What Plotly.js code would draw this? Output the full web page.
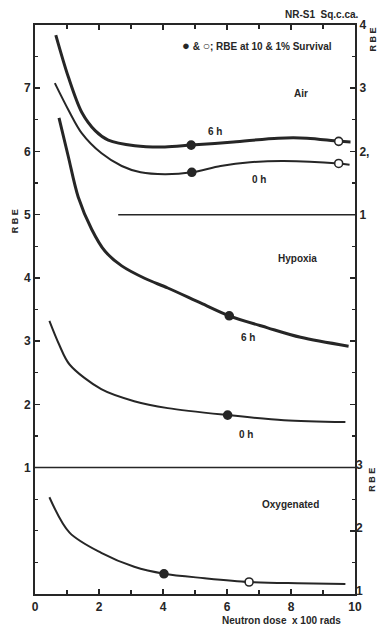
<!DOCTYPE html>
<html>
<head>
<meta charset="utf-8">
<script src="https://cdn.plot.ly/plotly-3.0.1.min.js"></script>
<style>
html,body{margin:0;padding:0;background:#fff;}
#chart{width:381px;height:626px;}
</style>
</head>
<body>
<div id="chart"></div>
<script>
// Air (right axis, RBE 1-4)
const air6hX = [0.65, 1.04, 1.46, 1.88, 2.29, 3.12, 4.06, 4.88, 6.20, 7.60, 8.50, 9.49, 9.86];
const air6hY = [3.84, 3.18, 2.62, 2.33, 2.18, 2.09, 2.07, 2.10, 2.15, 2.21, 2.21, 2.16, 2.15];
const air0hX = [0.62, 1.04, 1.46, 2.08, 2.71, 3.30, 4.06, 4.90, 5.80, 6.72, 7.77, 9.49, 9.83];
const air0hY = [3.08, 2.66, 2.29, 1.97, 1.77, 1.67, 1.64, 1.67, 1.77, 1.83, 1.85, 1.81, 1.79];
const air6hPtsX = [4.88], air6hPtsY = [2.10], air6hOpenX = [9.49], air6hOpenY = [2.16];
const air0hPtsX = [4.90], air0hPtsY = [1.67], air0hOpenX = [9.49], air0hOpenY = [1.81];
// Hypoxia (left axis, RBE 1-7)
const hyp6hX = [0.75, 1.04, 1.35, 1.77, 2.19, 2.71, 3.44, 4.15, 5.19, 6.07, 7.27, 8.30, 9.80];
const hyp6hY = [6.53, 5.92, 5.28, 4.77, 4.42, 4.19, 3.99, 3.84, 3.60, 3.40, 3.21, 3.06, 2.92];
const hyp0hX = [0.45, 0.75, 1.08, 2.07, 3.10, 4.15, 6.02, 7.78, 9.70];
const hyp0hY = [3.32, 2.95, 2.63, 2.24, 2.05, 1.94, 1.83, 1.75, 1.72];
const hyp6hPtsX = [6.07], hyp6hPtsY = [3.40];
const hyp0hPtsX = [6.02], hyp0hPtsY = [1.83];
// Oxygenated (lower right axis, RBE 1-3)
const oxyX = [0.45, 1.08, 2.07, 3.10, 4.03, 5.30, 6.69, 8.20, 9.70];
const oxyY = [2.53, 1.97, 1.65, 1.43, 1.32, 1.25, 1.19, 1.17, 1.16];
const oxyPtsX = [4.03], oxyPtsY = [1.32], oxyOpenX = [6.69], oxyOpenY = [1.19];
// RBE = 1 reference lines
const airRefX = [2.6, 10], airRefY = [1, 1];
const hypRefX = [0, 10], hypRefY = [1, 1];
// ticks
const xTicks = [0, 2, 4, 6, 8, 10];
const leftTicks = [1, 2, 3, 4, 5, 6, 7];
const airTicks = [4, 3, 2, 1, 0, -1, -2];
const airTickText = ["4", "3", "2,", "1", "", "", ""];
const oxyTicks = [1, 2, 3];

const ink = '#262626';
const F = 'Liberation Sans, Arial, sans-serif';

function line(x, y, w, ax) {
  return {x: x, y: y, yaxis: ax, mode: 'lines', line: {color: ink, width: w, shape: 'spline', smoothing: 0.9}, hoverinfo: 'skip', showlegend: false};
}
function pts(x, y, ax, open) {
  return {x: x, y: y, yaxis: ax, mode: 'markers', marker: {size: 8, color: open ? '#ffffff' : ink, line: {color: ink, width: 1.6}}, showlegend: false};
}
function ref(x, y, ax) {
  return {x: x, y: y, yaxis: ax, mode: 'lines', line: {color: ink, width: 1.5}, showlegend: false};
}

const data = [
  ref(airRefX, airRefY, 'y2'),
  ref(hypRefX, hypRefY, 'y'),
  line(air6hX, air6hY, 3, 'y2'),
  line(air0hX, air0hY, 2, 'y2'),
  line(hyp6hX, hyp6hY, 3, 'y'),
  line(hyp0hX, hyp0hY, 2, 'y'),
  line(oxyX, oxyY, 2, 'y3'),
  pts(air6hPtsX, air6hPtsY, 'y2', false),
  pts(air6hOpenX, air6hOpenY, 'y2', true),
  pts(air0hPtsX, air0hPtsY, 'y2', false),
  pts(air0hOpenX, air0hOpenY, 'y2', true),
  pts(hyp6hPtsX, hyp6hPtsY, 'y', false),
  pts(hyp0hPtsX, hyp0hPtsY, 'y', false),
  pts(oxyPtsX, oxyPtsY, 'y3', false),
  pts(oxyOpenX, oxyOpenY, 'y3', true)
];

const tickFont = {family: F, size: 12, color: ink, weight: 700};
const lblFont = {family: F, size: 10, color: ink, weight: 700};
const rbeFont = {family: F, size: 9, color: ink, weight: 700};

function ann(text, x, y, extra) {
  return Object.assign({text: text, x: x, y: y, xref: 'x', yref: 'y', xanchor: 'center', yanchor: 'middle', showarrow: false, font: lblFont}, extra || {});
}
function pann(text, x, y, extra) {
  return Object.assign({text: text, x: x, y: y, xref: 'paper', yref: 'paper', xanchor: 'center', yanchor: 'middle', showarrow: false, font: lblFont}, extra || {});
}

const layout = {
  width: 381, height: 626,
  margin: {l: 35, r: 26, t: 25, b: 32},
  paper_bgcolor: '#ffffff', plot_bgcolor: '#ffffff',
  showlegend: false,
  xaxis: {range: [0, 10], tickvals: xTicks, ticks: 'inside', ticklen: 5, tickwidth: 1.5, tickcolor: ink,
          minor: {dtick: 1, ticks: 'inside', ticklen: 4, tickwidth: 1.2, tickcolor: ink},
          showline: true, linecolor: ink, linewidth: 2, mirror: 'ticks', showgrid: false, zeroline: false,
          tickfont: tickFont, ticklabelstandoff: 1},
  yaxis: {range: [-1, 8], tickvals: leftTicks, ticks: 'inside', ticklen: 5, tickwidth: 1.5, tickcolor: ink,
          minor: {dtick: 0.5, ticks: 'inside', ticklen: 3, tickwidth: 1.2, tickcolor: ink},
          showline: true, linecolor: ink, linewidth: 2, showgrid: false, zeroline: false, tickfont: tickFont},
  yaxis2: {range: [-5, 4], overlaying: 'y', side: 'right', tickmode: 'array', tickvals: airTicks, ticktext: airTickText,
           ticks: 'inside', ticklen: 5, tickwidth: 1.5, tickcolor: ink,
           minor: {tickmode: 'array', tickvals: [3.5, 2.5, 1.5, 0.5, -0.5, -1.5, -2.5], ticks: 'inside', ticklen: 3, tickwidth: 1.2, tickcolor: ink},
           showline: true, linecolor: ink, linewidth: 2, showgrid: false, zeroline: false, tickfont: tickFont},
  yaxis3: {range: [1, 10], overlaying: 'y', side: 'right', tickvals: oxyTicks,
           ticks: 'inside', ticklen: 5, tickwidth: 1.5, tickcolor: ink,
           minor: {tickmode: 'array', tickvals: [1.5, 2.5], ticks: 'inside', ticklen: 3, tickwidth: 1.2, tickcolor: ink},
           showline: false, showgrid: false, zeroline: false, tickfont: tickFont, ticklabelshift: -3},
  annotations: [
    ann('Air', 8.3, 6.91),
    ann('6 h', 5.64, 6.32),
    ann('0 h', 6.99, 5.55),
    ann('Hypoxia', 8.2, 4.31),
    ann('6 h', 6.65, 3.06),
    ann('0 h', 6.58, 1.53),
    ann('Oxygenated', 7.99, 0.42),
    ann('<span style="font-size:13px">\u25CF</span> & <span style="font-size:12px">\u25CB</span>; RBE at 10 & 1% Survival', 6.93, 7.67),
    pann('NR-S1  Sq.c.ca.', 0.897, 1.018),
    pann('Neutron dose  x 100 rads', 0.77, -0.047),
    pann('R B E', -0.063, 0.655, {textangle: -90, font: rbeFont}),
    pann('R B E', 1.057, 0.975, {textangle: -90, font: rbeFont}),
    pann('R B E', 1.055, 0.2, {textangle: -90, font: rbeFont})
  ]
};

Plotly.newPlot('chart', data, layout, {staticPlot: true, displayModeBar: false});
</script>
</body>
</html>
